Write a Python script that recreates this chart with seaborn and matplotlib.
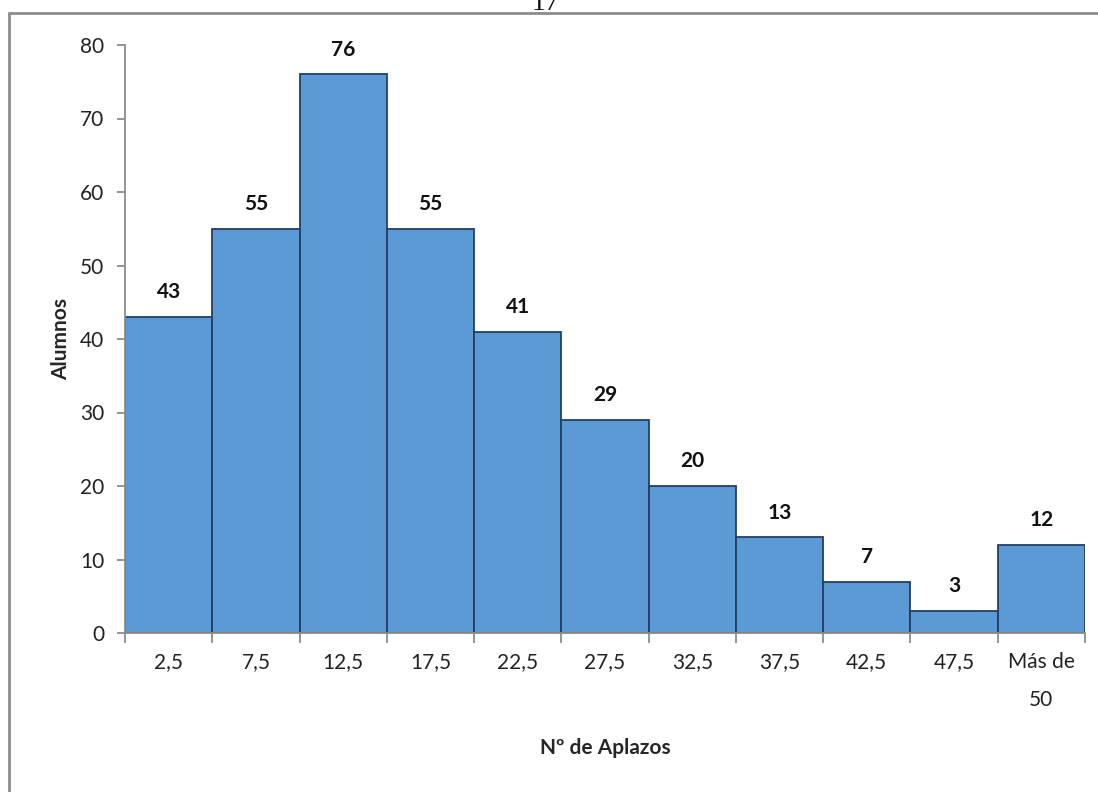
import matplotlib
matplotlib.use("Agg")
import matplotlib.pyplot as plt
import seaborn as sns
import pandas as pd
from matplotlib.patches import Rectangle

# data
categories = ["2,5", "7,5", "12,5", "17,5", "22,5", "27,5", "32,5", "37,5", "42,5", "47,5", "Más de\n50"]
alumnos = [43, 55, 76, 55, 41, 29, 20, 13, 7, 3, 12]

sns.set_theme(style="white")
plt.rcParams['font.family'] = ['Lato', 'DejaVu Sans']

df = pd.DataFrame({"clase": categories, "alumnos": alumnos})

fig = plt.figure(figsize=(10.98, 7.92), dpi=100)
ax = fig.add_axes([125 / 1098, 1 - 633 / 792, 960 / 1098, 588 / 792])

sns.barplot(data=df, x="clase", y="alumnos", ax=ax, width=1.0,
            color="#5B9AD5", saturation=1, edgecolor="#243F62", linewidth=1.3)

fs = 15

# value labels over the bars
for i, v in enumerate(alumnos):
    ax.text(i, v + 2.0, str(v), ha="center", va="bottom",
            fontsize=fs, fontweight="bold", color="#111111")

ax.set_xlim(-0.5, len(categories) - 0.5)
ax.set_ylim(0, 80)
ax.set_yticks(range(0, 81, 10))
ax.set_yticklabels([str(t) for t in range(0, 81, 10)], fontsize=fs, color="#222222")

# tick marks sit between classes, labels at bar centres
ax.set_xticks([i - 0.5 for i in range(len(categories) + 1)])
ax.set_xticklabels([])
ax.set_xticks(range(len(categories)), minor=True)
ax.set_xticklabels(categories, minor=True, fontsize=fs, color="#222222", linespacing=2.1)
ax.tick_params(axis="x", which="major", direction="out", length=7, width=1.3,
               color="#8C8C8C", bottom=True)
ax.tick_params(axis="x", which="minor", length=0, pad=14, bottom=True)
ax.tick_params(axis="y", direction="out", length=6, width=1.3, color="#8C8C8C",
               left=True, pad=9)

for side in ["top", "right"]:
    ax.spines[side].set_visible(False)
for side in ["left", "bottom"]:
    ax.spines[side].set_color("#8C8C8C")
    ax.spines[side].set_linewidth(1.3)

ax.set_xlabel("Nº de Aplazos", fontsize=fs, fontweight="bold", labelpad=20)
ax.set_ylabel("Alumnos", fontsize=fs, fontweight="bold", labelpad=6)

# chart frame (cut by the image edge) and page number on top
fig.patches.append(Rectangle((9 / 1098, -0.1), 1.2, 1 - 13 / 792 + 0.1,
                             transform=fig.transFigure, fill=False,
                             edgecolor="#8C8C8C", linewidth=2))
fig.text(545 / 1098, 1 - 10 / 792, "17", ha="center", va="baseline",
         fontsize=20, family="Liberation Serif", color="#111111")

fig.savefig("out.png", dpi=100)
